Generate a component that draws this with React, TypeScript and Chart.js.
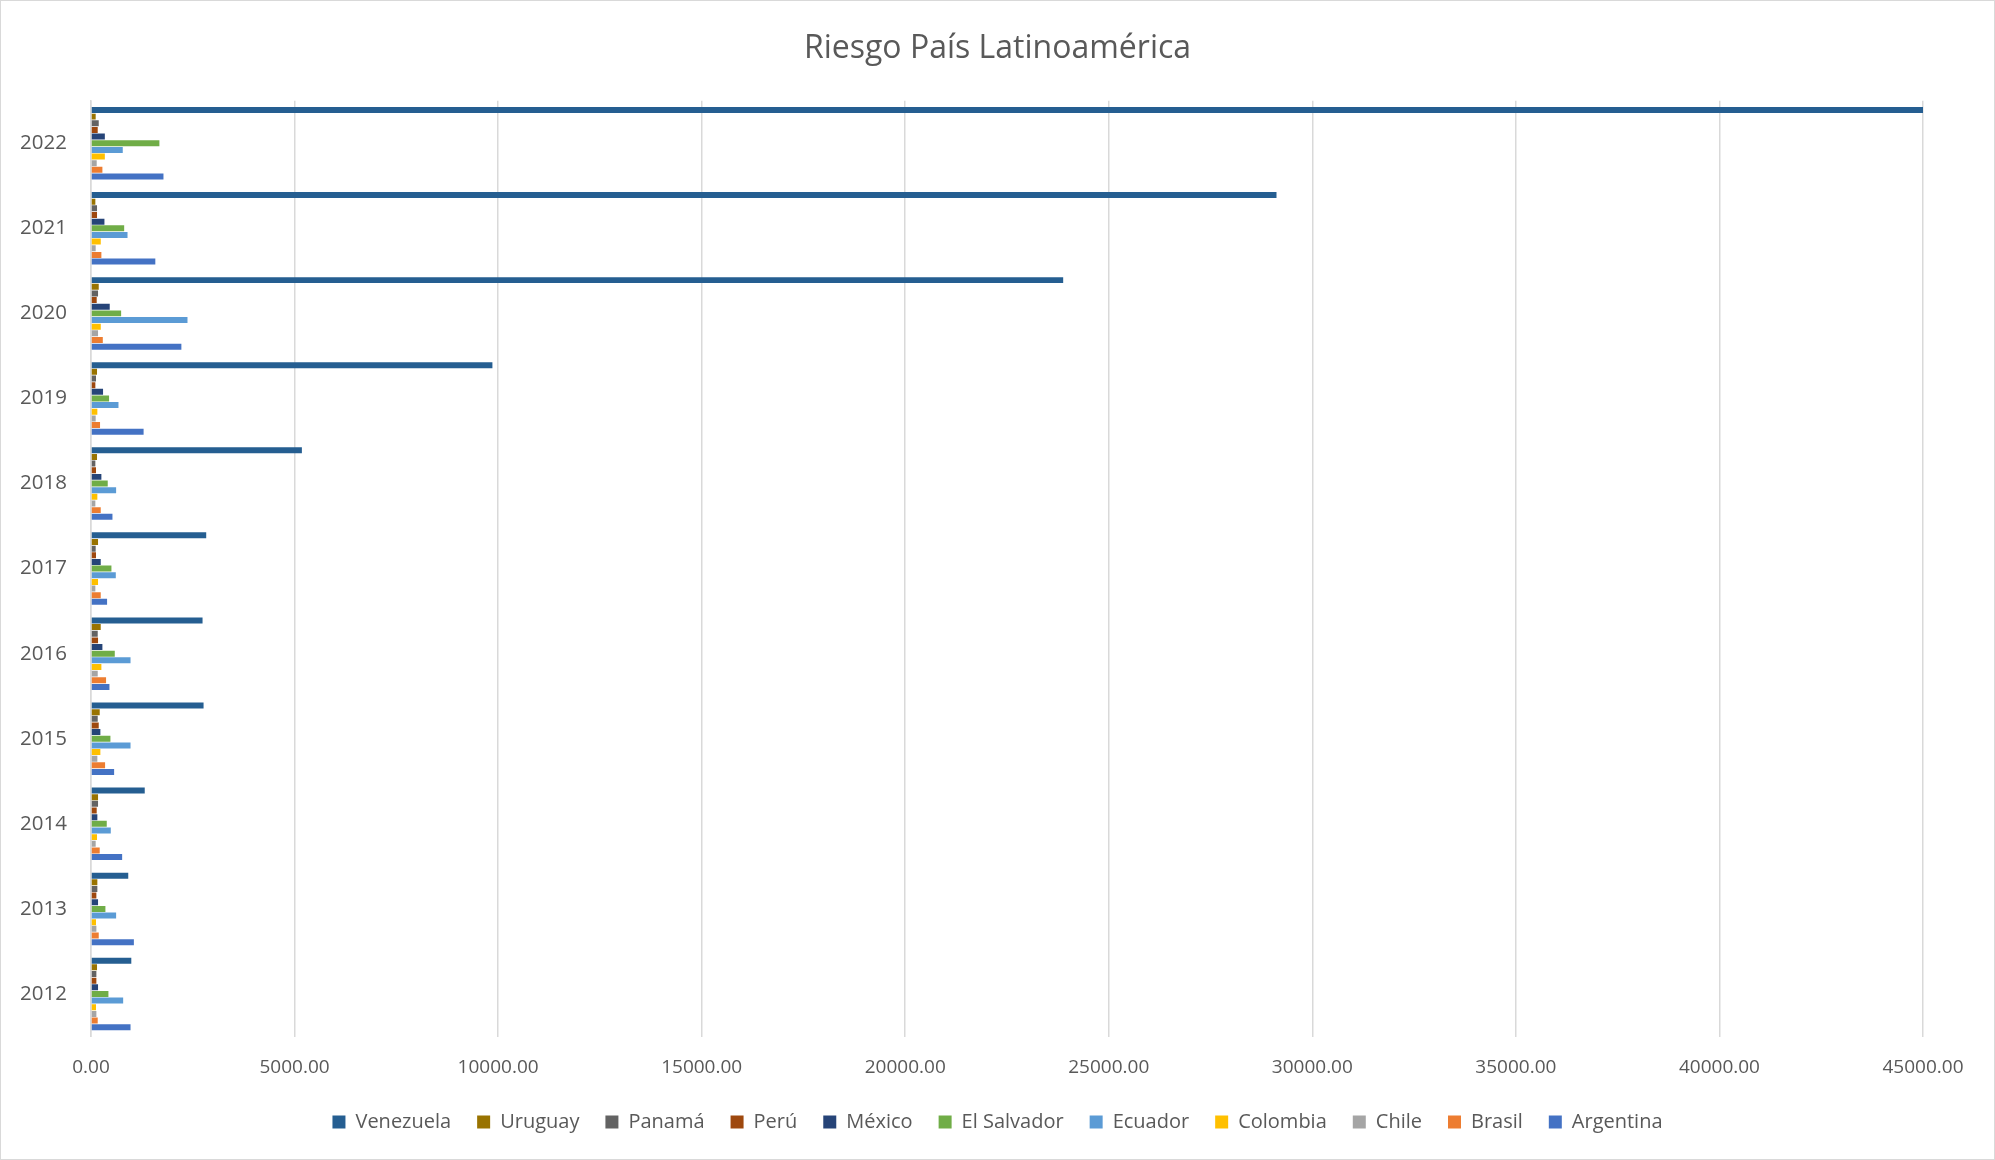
import React, { useEffect, useRef } from "react";
import { Chart, registerables } from "chart.js";

Chart.register(...registerables);

const years = ["2022", "2021", "2020", "2019", "2018", "2017", "2016", "2015", "2014", "2013", "2012"];

const venezuela = [45000, 29120, 23880, 9860, 5180, 2830, 2740, 2765, 1320, 915, 990];
const uruguay = [115, 107, 190, 148, 148, 173, 239, 214, 173, 156, 148];
const panama = [190, 148, 173, 123, 107, 115, 165, 165, 173, 156, 132];
const peru = [165, 148, 140, 107, 123, 123, 173, 190, 140, 132, 132];
const mexico = [340, 330, 460, 296, 255, 239, 280, 230, 156, 173, 173];
const elSalvador = [1680, 815, 740, 444, 411, 502, 584, 477, 387, 354, 428];
const ecuador = [780, 897, 2370, 675, 617, 609, 971, 971, 486, 617, 790];
const colombia = [340, 240, 240, 156, 156, 173, 255, 230, 148, 123, 123];
const chile = [140, 115, 173, 115, 107, 107, 165, 156, 115, 132, 132];
const brasil = [280, 255, 290, 222, 239, 239, 370, 346, 214, 190, 165];
const argentina = [1780, 1580, 2220, 1292, 527, 395, 453, 568, 765, 1053, 971];

const seriesNames = ["Venezuela", "Uruguay", "Panamá", "Perú", "México", "El Salvador", "Ecuador", "Colombia", "Chile", "Brasil", "Argentina"];
const seriesValues = [venezuela, uruguay, panama, peru, mexico, elSalvador, ecuador, colombia, chile, brasil, argentina];
const seriesColors = ["#255E91", "#997300", "#636363", "#9E480E", "#264478", "#70AD47", "#5B9BD5", "#FFC000", "#A5A5A5", "#ED7D31", "#4472C4"];

const FONT = "'Open Sans', 'Noto Sans', sans-serif";
const TEXT = "#595959";

export default function App() {
  const ref = useRef<HTMLCanvasElement>(null);

  useEffect(() => {
    document.body.style.margin = "0";
    if (!ref.current) return;
    const chart = new Chart(ref.current, {
      type: "bar",
      data: {
        labels: years,
        datasets: seriesNames.map((name, i) => ({
          label: name,
          data: seriesValues[i],
          backgroundColor: seriesColors[i],
          borderWidth: 0,
          categoryPercentage: 0.86,
          barPercentage: 0.9,
        })),
      },
      options: {
        indexAxis: "y",
        animation: false,
        responsive: false,
        maintainAspectRatio: false,
        layout: { padding: { left: 0, right: 0, top: 0, bottom: 17 } },
        plugins: {
          title: {
            display: true,
            text: "Riesgo País Latinoamérica",
            color: TEXT,
            font: { family: FONT, size: 32, weight: "normal" },
            padding: { top: 28.5, bottom: 32.8 },
          },
          legend: {
            position: "bottom",
            labels: {
              color: TEXT,
              font: { family: FONT, size: 20 },
              boxWidth: 13,
              boxHeight: 13,
              padding: 26,
            },
          },
          tooltip: { enabled: false },
        },
        scales: {
          x: {
            min: 0,
            max: 45000,
            ticks: {
              stepSize: 5000,
              color: TEXT,
              font: { family: FONT, size: 19 },
              padding: 20,
              callback: (v: any) => Number(v).toFixed(2),
            },
            grid: { color: "#d9d9d9", lineWidth: 1.5, drawTicks: false },
            border: { display: false },
            afterFit: (s: any) => {
              s.height = 49.5;
            },
          },
          y: {
            ticks: {
              color: TEXT,
              font: { family: FONT, size: 20.5 },
              padding: 24,
            },
            grid: { display: false, drawTicks: false },
            border: { display: true, color: "#d9d9d9", width: 1.5 },
            afterFit: (s: any) => {
              s.width = 90;
            },
          },
          spacer: {
            type: "category",
            position: "right",
            display: true,
            ticks: { display: false },
            grid: { display: false, drawTicks: false },
            border: { display: false },
            afterFit: (s: any) => {
              s.width = 71;
            },
          },
        },
      },
    });
    return () => chart.destroy();
  }, []);

  return (
    <div style={{ width: 1995, height: 1160, border: "1px solid #d9d9d9", boxSizing: "border-box", position: "relative", background: "#fff" }}>
      <canvas ref={ref} width={1993} height={1158} style={{ display: "block" }} />
    </div>
  );
}
